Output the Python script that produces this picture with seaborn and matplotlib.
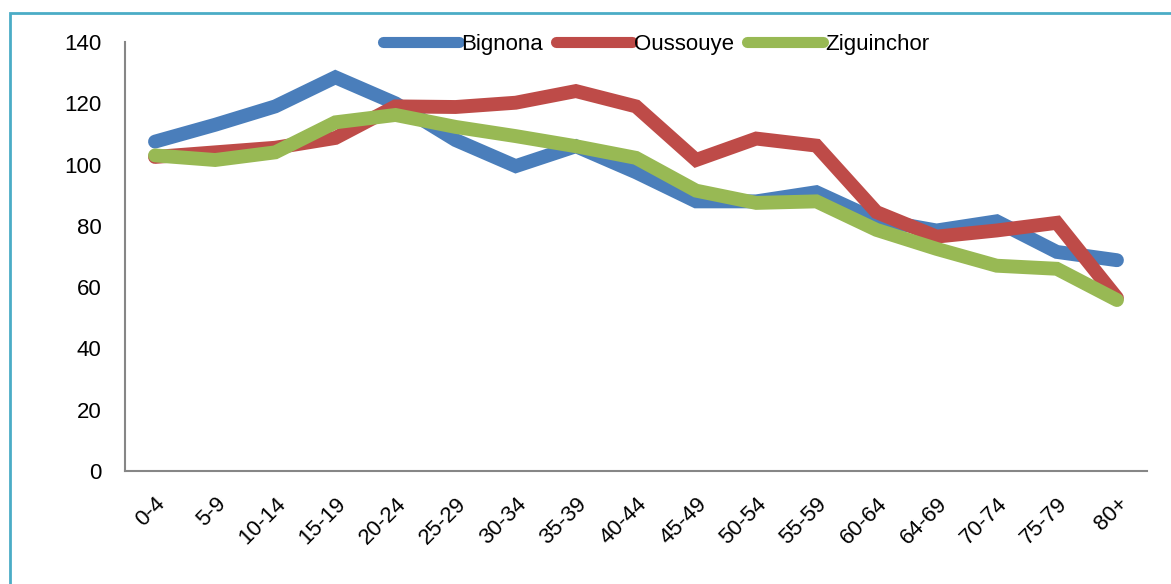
import pandas as pd
import seaborn as sns
import matplotlib.pyplot as plt
from matplotlib.patches import Rectangle

age_groups = ["0-4", "5-9", "10-14", "15-19", "20-24", "25-29", "30-34", "35-39",
              "40-44", "45-49", "50-54", "55-59", "60-64", "64-69", "70-74", "75-79", "80+"]
bignona = [107.5, 113, 119, 128.5, 120, 108, 99.5, 106, 97.5, 88, 88, 91, 82, 78.5, 81.5, 71.5, 68.8]
oussouye = [102.5, 104, 105.5, 108.7, 119, 118.8, 120.2, 124, 119, 101.5, 108.5, 106.2, 84.5, 76.5, 78.5, 81, 56.5]
ziguinchor = [103, 101.5, 104, 113.8, 116.2, 112.3, 109.3, 106, 102.2, 91.5, 87.5, 88, 78.7, 72.5, 67, 66, 55.8]

series = {"Bignona": bignona, "Oussouye": oussouye, "Ziguinchor": ziguinchor}
palette = {"Bignona": "#4A7EBB", "Oussouye": "#BE4B48", "Ziguinchor": "#98B954"}

# long format for seaborn
rows = []
for name, vals in series.items():
    for i, v in enumerate(vals):
        rows.append({"pos": i, "group": age_groups[i], "commune": name, "value": v})
df = pd.DataFrame(rows)

sns.set_style("white")
plt.rcParams["font.family"] = ["Liberation Sans", "DejaVu Sans"]
plt.rcParams["text.color"] = "black"

fig = plt.figure(figsize=(11.71, 5.84), dpi=100)
ax = fig.add_axes([0.1067, 0.1935, 0.8728, 0.7345])

sns.lineplot(data=df, x="pos", y="value", hue="commune", palette=palette,
             linewidth=10, ax=ax, legend=False, solid_capstyle="round",
             solid_joinstyle="miter")

ax.set_xlim(-0.5, 16.5)
ax.set_ylim(0, 140)
ax.set_yticks(range(0, 141, 20))
ax.set_xticks(range(len(age_groups)))
ax.set_xticklabels(age_groups, rotation=45, ha="right", rotation_mode="anchor")
ax.set_xticks([i - 0.5 for i in range(len(age_groups) + 1)], minor=True)
ax.tick_params(axis="x", which="major", length=0, pad=16, labelsize=16, labelcolor="black")
ax.tick_params(axis="x", which="minor", length=6, color="#868686", width=1.2, direction="out")
ax.tick_params(axis="y", length=7, color="#868686", width=1.2, labelsize=16,
               labelcolor="black", direction="out", pad=10)
ax.set_xlabel("")
ax.set_ylabel("")

for s in ["top", "right"]:
    ax.spines[s].set_visible(False)
for s in ["left", "bottom"]:
    ax.spines[s].set_color("#868686")
    ax.spines[s].set_linewidth(1.5)

# legend
handles = [plt.Line2D([], [], color=palette[n], linewidth=8) for n in series]
ax.legend(handles, list(series), loc="lower center", bbox_to_anchor=(0.52, 0.95),
          ncol=3, frameon=False, fontsize=16, handlelength=3.4,
          handletextpad=0.1, columnspacing=0.6, borderaxespad=0)

# outer chart frame
fig.patches.append(Rectangle((10 / 1171, -0.2), 1.2, 1 - 13 / 584 + 0.2,
                             transform=fig.transFigure, fill=False,
                             edgecolor="#4BACC6", linewidth=2))

fig.savefig("out.png", dpi=100)
